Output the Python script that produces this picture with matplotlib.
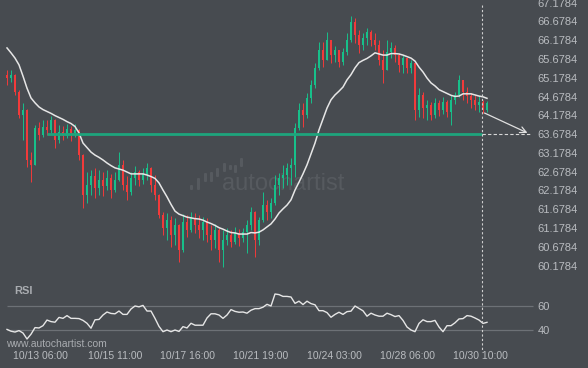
import numpy as np
import matplotlib
matplotlib.use("Agg")
import matplotlib.pyplot as plt
from matplotlib import transforms
from matplotlib.lines import Line2D
from matplotlib.patches import FancyBboxPatch

# hourly candles (one every few hours)
first_open = 65.25
closes = [65.17, 65.25, 64.80, 64.19, 64.32, 62.99, 62.86, 63.84, 63.66, 63.87,
          63.79, 64.05, 63.52, 63.73, 63.63, 63.81, 63.71, 63.79, 63.12, 62.06,
          62.32, 62.56, 62.24, 62.46, 62.30, 62.51, 62.19, 62.46, 62.86, 62.32,
          62.14, 62.51, 62.67, 62.46, 62.62, 62.78, 62.32, 62.06, 61.53, 61.18,
          61.39, 60.99, 61.26, 60.60, 61.34, 61.13, 61.45, 61.26, 61.13, 61.34,
          60.99, 60.86, 61.13, 60.60, 60.86, 60.99, 60.81, 61.05, 60.92, 61.07,
          61.26, 61.61, 60.86, 61.39, 61.79, 61.61, 61.85, 62.32, 62.51, 62.59,
          62.78, 62.86, 63.84, 64.32, 64.19, 64.64, 64.98, 65.44, 65.92, 65.65,
          66.18, 65.78, 65.92, 65.60, 65.86, 66.18, 66.66, 66.31, 66.05, 66.23,
          66.39, 66.18, 66.05, 65.65, 65.38, 65.86, 65.97, 65.78, 65.52, 65.70,
          65.44, 65.57, 64.32, 64.72, 64.37, 64.45, 64.19, 64.51, 64.32, 64.53,
          64.27, 64.59, 64.72, 65.12, 64.80, 64.69, 64.59, 64.45, 64.53, 64.32,
          64.51]
highs = [65.38, 65.38, 65.27, 64.85, 64.51, 64.35, 63.20, 63.92, 64.00, 64.05,
         64.05, 64.16, 64.08, 63.92, 63.89, 63.95, 63.89, 63.95, 63.82, 63.14,
         62.67, 62.72, 62.78, 62.72, 62.67, 62.72, 62.62, 62.67, 63.20, 62.99,
         62.56, 62.67, 62.83, 62.72, 62.78, 62.91, 62.80, 62.59, 62.08, 61.61,
         61.58, 61.50, 61.45, 61.28, 61.55, 61.53, 61.61, 61.58, 61.53, 61.47,
         61.45, 61.26, 61.29, 61.18, 61.13, 61.18, 61.13, 61.21, 61.15, 61.18,
         61.39, 61.74, 61.63, 61.47, 62.14, 61.93, 61.98, 62.59, 62.64, 62.86,
         62.91, 63.04, 63.97, 64.51, 64.51, 64.77, 65.12, 65.57, 66.13, 66.13,
         66.39, 66.05, 66.02, 65.92, 65.97, 66.37, 66.82, 66.77, 66.45, 66.37,
         66.50, 66.45, 66.37, 66.18, 65.92, 66.18, 66.13, 66.05, 65.84, 65.78,
         65.70, 65.65, 65.57, 64.90, 64.80, 64.59, 64.53, 64.64, 64.59, 64.67,
         64.59, 64.72, 64.80, 65.25, 65.12, 64.93, 64.77, 64.72, 64.69, 64.59,
         64.56]
lows = [64.98, 65.07, 64.72, 64.11, 63.52, 62.80, 62.40, 62.86, 63.52, 63.60,
        63.66, 63.71, 63.31, 63.44, 63.52, 63.57, 63.50, 63.60, 62.99, 61.71,
        61.85, 62.06, 61.98, 62.06, 62.03, 62.19, 61.98, 62.14, 62.44, 62.19,
        61.93, 62.06, 62.32, 62.30, 62.35, 62.46, 62.14, 61.93, 61.45, 60.99,
        60.86, 60.68, 60.73, 60.28, 60.54, 60.94, 61.07, 61.05, 60.92, 60.86,
        60.81, 60.60, 60.65, 60.28, 60.14, 60.73, 60.68, 60.76, 60.70, 60.81,
        60.52, 61.13, 60.41, 60.73, 61.34, 61.39, 61.45, 61.79, 62.06, 62.24,
        62.32, 62.32, 62.54, 63.79, 63.87, 64.11, 64.51, 64.90, 65.38, 65.46,
        65.65, 65.57, 65.60, 65.46, 65.52, 65.78, 66.13, 66.10, 65.84, 65.92,
        66.05, 66.02, 65.92, 65.52, 65.04, 65.38, 65.70, 65.60, 65.33, 65.30,
        65.30, 65.30, 64.05, 64.13, 64.11, 64.05, 64.05, 64.11, 64.16, 64.21,
        64.13, 63.92, 64.48, 64.67, 64.59, 64.51, 64.37, 64.32, 64.27, 64.24,
        64.27]
moving_avg = [65.97, 65.84, 65.70, 65.52, 65.22, 64.90, 64.64, 64.51, 64.40, 64.33,
              64.28, 64.23, 64.17, 64.12, 64.07, 64.01, 63.96, 63.88, 63.71, 63.44,
              63.32, 63.20, 63.12, 63.06, 62.99, 62.91, 62.84, 62.78, 62.75, 62.72,
              62.67, 62.62, 62.62, 62.62, 62.62, 62.59, 62.55, 62.50, 62.38, 62.19,
              62.01, 61.81, 61.63, 61.55, 61.51, 61.47, 61.45, 61.43, 61.42, 61.39,
              61.34, 61.30, 61.25, 61.19, 61.15, 61.10, 61.06, 61.05, 61.02, 61.02,
              61.02, 61.06, 61.05, 61.07, 61.13, 61.21, 61.29, 61.42, 61.58, 61.69,
              61.79, 61.93, 62.19, 62.40, 62.62, 62.86, 63.15, 63.44, 63.79, 64.08,
              64.37, 64.59, 64.72, 64.82, 64.93, 65.12, 65.26, 65.44, 65.58, 65.64,
              65.69, 65.76, 65.84, 65.81, 65.78, 65.78, 65.82, 65.82, 65.81, 65.78,
              65.74, 65.70, 65.62, 65.46, 65.33, 65.17, 65.04, 64.96, 64.86, 64.81,
              64.76, 64.71, 64.68, 64.69, 64.75, 64.75, 64.75, 64.72, 64.69, 64.67,
              64.63]
rsi = [40.5, 39.0, 38.3, 39.5, 37.5, 32.5, 36.5, 42.0, 41.7, 43.6,
       48.3, 47.0, 46.5, 50.5, 49.7, 52.0, 49.7, 49.7, 49.5, 48.0,
       45.6, 41.5, 48.5, 48.8, 52.5, 55.0, 53.8, 53.5, 55.8, 53.0,
       53.0, 57.5, 60.0, 59.3, 60.5, 55.8, 55.8, 49.7, 43.0, 38.6,
       40.0, 38.6, 40.0, 38.8, 42.8, 41.7, 45.6, 44.0, 44.0, 44.0,
       50.0, 53.5, 53.5, 52.5, 49.7, 52.5, 57.0, 55.5, 54.8, 55.0,
       54.0, 56.5, 57.8, 57.8, 59.0, 61.4, 60.0, 70.0, 69.5, 68.0,
       68.0, 67.5, 62.2, 64.0, 61.2, 64.0, 62.0, 61.0, 56.1, 56.1,
       54.5, 50.6, 53.0, 54.8, 53.0, 55.3, 55.7, 60.0, 58.0, 56.0,
       51.5, 54.0, 52.5, 51.5, 51.5, 54.0, 52.8, 51.2, 52.0, 48.0,
       42.5, 40.0, 38.6, 45.5, 48.5, 47.0, 47.0, 48.0, 42.5, 38.6,
       43.6, 43.6, 46.0, 49.2, 49.5, 52.0, 51.5, 50.0, 48.3, 45.5,
       46.4]

price_ticks = [60.1784, 60.6784, 61.1784, 61.6784, 62.1784, 62.6784, 63.1784,
               63.6784, 64.1784, 64.6784, 65.1784, 65.6784, 66.1784, 66.6784, 67.1784]
rsi_ticks = [40, 60]
time_labels = ["10/13 06:00", "10/15 11:00", "10/17 16:00", "10/21 19:00",
               "10/24 03:00", "10/28 06:00", "10/30 10:00"]
time_pos = [8.25, 27, 45.25, 63.5, 81.75, 100, 118.25]

level = 63.6784          # resistance/support line
level_start = 10
now_pos = 118.75         # last completed bar (dashed vertical)
forecast_end = 130.75
forecast_from = 64.27

BG = "#474b50"
TXT = "#b9bcc0"
UP = "#17c08a"
DOWN = "#f23a3a"

plt.rcParams["font.family"] = ["Liberation Sans", "DejaVu Sans"]

W, H = 588, 368
fig = plt.figure(figsize=(W / 100, H / 100), dpi=100, facecolor=BG)

# watermark layer (pixel coords)
wm = fig.add_axes([0, 0, 1, 1], zorder=0)
wm.set_xlim(0, W)
wm.set_ylim(H, 0)
wm.axis("off")
wm.text(222, 184, "autochartist", fontsize=17, color="#565a5f", va="center", ha="left")
for x0, y0, y1 in [(190, 185, 190), (197, 178, 190), (204, 173, 182), (210, 172, 182),
                   (216, 168, 177), (223, 163, 172), (229, 165, 170), (234, 165, 173), (240, 158, 167)]:
    wm.add_patch(FancyBboxPatch((x0, y0), 3, y1 - y0, boxstyle="round,pad=0,rounding_size=1",
                                fc="#565a5f", ec="none"))

ax = fig.add_axes([0, 1 - 280 / H, 535 / W, 280 / H], zorder=1)
ax.set_facecolor("none")
ax.set_xlim(-1.75, 132)
ax.set_ylim(59.798, 67.245)

idx = np.arange(len(closes))
c = np.array(closes)
o = np.r_[first_open, c[:-1]]
up = c >= o
cols = np.where(up, UP, DOWN)
ax.vlines(idx, lows, highs, colors=cols, lw=0.7)
ax.bar(idx, np.maximum(np.abs(c - o), 0.02), bottom=np.minimum(o, c), width=0.5, color=cols)

ax.plot(idx, moving_avg, color="#e6e6e6", lw=1.1)

ax.hlines(level, level_start, now_pos, color="#1ea47c", lw=2.0)
ax.plot([now_pos, forecast_end], [level, level], color="#d8d8d8", lw=0.8, dashes=(3, 2))
ax.annotate("", xy=(forecast_end, level), xytext=(now_pos, forecast_from),
            arrowprops=dict(arrowstyle="->", color="#e0e0e0", lw=0.9, mutation_scale=11))

ax.yaxis.tick_right()
ax.set_yticks(price_ticks)
ax.set_yticklabels([f"{p:.4f}" for p in price_ticks])
ax.tick_params(axis="y", length=0, pad=2, labelsize=8, labelcolor=TXT)
ax.set_xticks([])
for s in ax.spines.values():
    s.set_visible(False)

# RSI panel
rax = fig.add_axes([0, 1 - 345 / H, 535 / W, 60 / H], zorder=1)
rax.set_facecolor("none")
rax.set_xlim(-1.75, 132)
rax.set_ylim(27.5, 77.5)
rax.hlines(rsi_ticks, 0, 131.5, color="#6d7176", lw=0.9)
rax.plot(idx, rsi, color="#e6e6e6", lw=1.0)
rax.yaxis.tick_right()
rax.set_yticks(rsi_ticks)
rax.tick_params(axis="y", length=0, pad=2, labelsize=8, labelcolor=TXT)
rax.set_xticks(time_pos)
rax.set_xticklabels(time_labels)
rax.tick_params(axis="x", length=0, pad=4, labelsize=7.5, labelcolor=TXT)
for s in rax.spines.values():
    s.set_visible(False)

# dashed vertical "now" marker across both panels
tr = transforms.blended_transform_factory(ax.transData, fig.transFigure)
fig.add_artist(Line2D([now_pos, now_pos], [1 - 5 / H, 1 - 352 / H], transform=tr,
                      color="#d0d0d0", lw=0.8, dashes=(2, 2), zorder=3))

fig.text(14 / W, 1 - 291 / H, "RSI", fontsize=8, fontweight="bold", color="#a9acb0", va="center")
fig.text(6 / W, 1 - 344 / H, "www.autochartist.com", fontsize=7.5, color="#a9acb0", va="center")

fig.savefig("out.png", dpi=100, facecolor=BG)
